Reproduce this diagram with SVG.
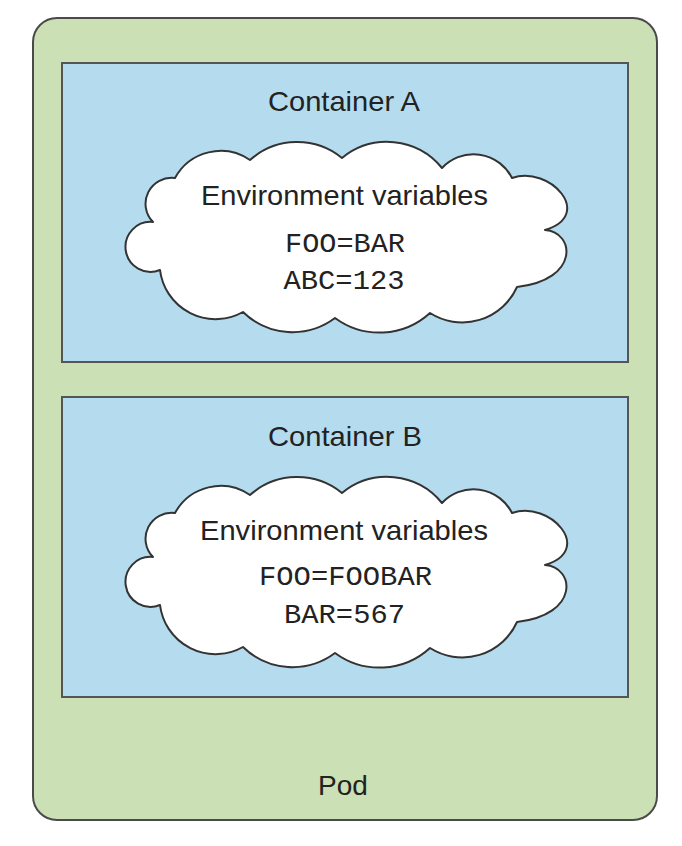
<svg xmlns="http://www.w3.org/2000/svg" width="682" height="846" viewBox="0 0 682 846">
  <style>
    .pod { fill: #cbe0b4; stroke: #4a4a4a; stroke-width: 2; }
    .container { fill: #b5dcee; stroke: #555555; stroke-width: 2; }
    .cloud { fill: #ffffff; stroke: #333333; stroke-width: 2; stroke-linejoin: round; }
    .label { font-family: "Liberation Sans", Arial, Helvetica, sans-serif; font-size: 28px; fill: #222222; text-anchor: middle; }
    .mono { font-family: "Liberation Mono", "Courier New", monospace; font-size: 27px; fill: #222222; text-anchor: middle; }
  </style>
  <defs>
    <path id="cloudShape" d="M153,222 A26,26 0 0 1 175,178 A52,52 0 0 1 250,160 A71,71 0 0 1 342,158 A71,71 0 0 1 442,168 A43,43 0 0 1 512,178 C550,165 595,215 545,230 C575,232 580,280 517,287 A60,60 0 0 1 430,313 A75,75 0 0 1 335,318 A71,71 0 0 1 243,312 A56,56 0 0 1 160,270 A25,25 0 1 1 153,222 Z"/>
  </defs>

  <g id="pod">
    <rect class="pod" x="33" y="18" width="624" height="802" rx="24" ry="24"/>
    <text class="label" x="343" y="795">Pod</text>
  </g>

  <g id="containerA">
    <rect class="container" x="62" y="63" width="566" height="299"/>
    <text class="label" x="344" y="111" textLength="152" lengthAdjust="spacingAndGlyphs">Container A</text>
  </g>

  <g id="cloudA">
    <use href="#cloudShape" class="cloud"/>
    <text class="label" x="344.5" y="205" font-size="27" textLength="287" lengthAdjust="spacingAndGlyphs">Environment variables</text>
    <text class="mono" x="345" y="252" textLength="120" lengthAdjust="spacingAndGlyphs">FOO=BAR</text>
    <text class="mono" x="344" y="289" textLength="121" lengthAdjust="spacingAndGlyphs">ABC=123</text>
  </g>

  <g id="containerB">
    <rect class="container" x="62" y="397" width="566" height="300"/>
    <text class="label" x="345" y="446" textLength="154" lengthAdjust="spacingAndGlyphs">Container B</text>
  </g>

  <g id="cloudB" transform="translate(0,335)">
    <use href="#cloudShape" class="cloud"/>
    <text class="label" x="344" y="205" font-size="27" textLength="288" lengthAdjust="spacingAndGlyphs">Environment variables</text>
    <text class="mono" x="345.5" y="250" textLength="173" lengthAdjust="spacingAndGlyphs">FOO=FOOBAR</text>
    <text class="mono" x="344.5" y="288" textLength="121" lengthAdjust="spacingAndGlyphs">BAR=567</text>
  </g>

  <g id="connectors"/>
</svg>
